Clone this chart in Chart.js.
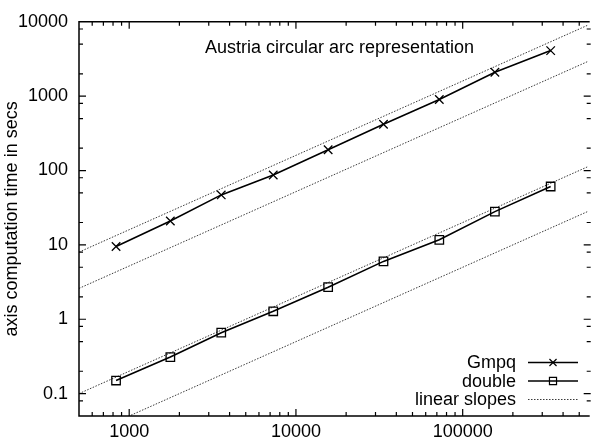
<!DOCTYPE html>
<html>
<head>
<meta charset="utf-8">
<script src="https://cdn.jsdelivr.net/npm/chart.js@4.4.0/dist/chart.umd.min.js"></script>
<style>
    html, body { margin: 0; padding: 0; background: #fff; }
    #wrap { width: 595px; height: 441px; }
</style>
</head>
<body>
<div id="wrap"><canvas id="chart" width="595" height="441"></canvas></div>
<script>
// problem size (x) and computation times
const sizes = [834, 1765, 3565, 7310, 15600, 33500, 72400, 156000, 337000];
const gmpqTimes = [9.5, 21, 47, 87, 190, 420, 900, 2100, 4100];
const doubleTimes = [0.15, 0.31, 0.66, 1.28, 2.7, 6.0, 11.7, 28, 61];

// slope-one reference lines, given at both ends of the x range
const slopeX = [500, 562000];
const slopeHiGmpq = [8, 8992];
const slopeLoGmpq = [2.6, 2922];
const slopeHiDouble = [0.1, 112.4];
const slopeLoDouble = [0.025, 28.1];

const xTicks = [1000, 10000, 100000];
const yTicks = [0.1, 1, 10, 100, 1000, 10000];
const xMinorSteps = [2, 3, 4, 5, 6, 7, 8, 9];
const yMinorSteps = [2, 5, 8];

const titleText = 'Austria circular arc representation';
const yTitle = 'axis computation time in secs';

const FONT = 'Liberation Sans, Arial, sans-serif';
const FONT_SIZE = 18;
Chart.defaults.font.family = FONT;
Chart.defaults.font.size = FONT_SIZE;
Chart.defaults.color = '#000';

function pairs(xs, ys) {
    return xs.map((x, i) => ({ x: x, y: ys[i] }));
}

function slopeSet(values, label) {
    return {
        label: label,
        data: pairs(slopeX, values),
        borderColor: '#3a3a3a',
        borderWidth: 1,
        borderDash: [1.5, 1.5],
        pointRadius: 0,
        fill: false
    };
}

// inward ticks on all four sides plus the frame, gnuplot style
const frame = {
    id: 'frame',
    afterDraw(chart) {
        const { ctx, chartArea: a, scales: { x, y } } = chart;
        const major = 7, minor = 4;
        ctx.save();
        ctx.strokeStyle = '#000';
        ctx.lineWidth = 1.5;
        ctx.beginPath();
        ctx.moveTo(a.right + 2, a.top);
        ctx.lineTo(a.left, a.top);
        ctx.lineTo(a.left, a.bottom);
        ctx.lineTo(a.right + 2, a.bottom);
        ctx.stroke();

        const xMarks = [];
        [xTicks[0] / 10, ...xTicks].forEach(d => {
            xMinorSteps.forEach(m => xMarks.push([m * d, minor]));
        });
        xTicks.forEach(v => xMarks.push([v, major]));
        ctx.lineWidth = 1.2;
        ctx.beginPath();
        xMarks.forEach(([v, len]) => {
            const px = x.getPixelForValue(v);
            if (px <= a.left + 1 || px > a.right) return;
            ctx.moveTo(px, a.bottom);
            ctx.lineTo(px, a.bottom - len);
            ctx.moveTo(px, a.top);
            ctx.lineTo(px, a.top + len);
        });

        const yMarks = [];
        [yTicks[0] / 10, ...yTicks].forEach(d => {
            yMinorSteps.forEach(m => yMarks.push([m * d, minor]));
        });
        yTicks.forEach(v => yMarks.push([v, major]));
        yMarks.forEach(([v, len]) => {
            const py = y.getPixelForValue(v);
            if (py < a.top + 1 || py >= a.bottom - 1) return;
            ctx.moveTo(a.left, py);
            ctx.lineTo(a.left + len, py);
            ctx.moveTo(a.right + 3, py);
            ctx.lineTo(a.right + 3 - len, py);
        });
        ctx.stroke();

        // title inside the plot
        ctx.fillStyle = '#000';
        ctx.font = FONT_SIZE + 'px ' + FONT;
        ctx.textAlign = 'center';
        ctx.textBaseline = 'alphabetic';
        ctx.fillText(titleText, 339.5, 53);
        ctx.restore();
    }
};

// key in the lower right corner: text, then line sample with marker
const key = {
    id: 'key',
    afterDraw(chart) {
        const ctx = chart.ctx;
        const textRight = 516, lineLeft = 528, lineRight = 578;
        const rows = [0, 1, 2];
        ctx.save();
        ctx.font = FONT_SIZE + 'px ' + FONT;
        ctx.textAlign = 'right';
        ctx.textBaseline = 'alphabetic';
        rows.forEach((idx, i) => {
            const ds = chart.data.datasets[idx];
            const base = 368 + i * 18.5;
            const mid = base - 5.5;
            ctx.fillStyle = '#000';
            ctx.fillText(ds.label, textRight, base);
            ctx.strokeStyle = ds.borderColor;
            ctx.lineWidth = ds.borderWidth;
            ctx.setLineDash(ds.borderDash || []);
            ctx.beginPath();
            ctx.moveTo(lineLeft, mid);
            ctx.lineTo(lineRight, mid);
            ctx.stroke();
            ctx.setLineDash([]);
            if (ds.pointStyle) {
                ctx.fillStyle = 'rgba(0,0,0,0)';
                ctx.strokeStyle = '#000';
                ctx.lineWidth = 1.2;
                Chart.helpers.drawPoint(ctx, {
                    pointStyle: ds.pointStyle,
                    radius: 5,
                    rotation: 0,
                    borderWidth: 1.2
                }, (lineLeft + lineRight) / 2, mid);
            }
        });
        ctx.restore();
    }
};

new Chart(document.getElementById('chart'), {
    type: 'line',
    data: {
        datasets: [
            {
                label: 'Gmpq',
                data: pairs(sizes, gmpqTimes),
                borderColor: '#000',
                borderWidth: 1.6,
                pointStyle: 'crossRot',
                pointRadius: 6,
                pointBorderWidth: 1.3,
                pointBorderColor: '#000',
                fill: false
            },
            {
                label: 'double',
                data: pairs(sizes, doubleTimes),
                borderColor: '#000',
                borderWidth: 1.6,
                pointStyle: 'rect',
                pointRadius: 6,
                pointBorderWidth: 1.3,
                pointBorderColor: '#000',
                pointBackgroundColor: 'rgba(0,0,0,0)',
                fill: false
            },
            slopeSet(slopeHiGmpq, 'linear slopes'),
            slopeSet(slopeLoGmpq, ''),
            slopeSet(slopeHiDouble, ''),
            slopeSet(slopeLoDouble, '')
        ]
    },
    options: {
        responsive: false,
        animation: false,
        devicePixelRatio: 1,
        layout: { padding: { top: 21, right: 0, left: 0, bottom: 0 } },
        plugins: {
            legend: { display: false },
            tooltip: { enabled: false }
        },
        scales: {
            x: {
                type: 'logarithmic',
                min: slopeX[0],
                max: slopeX[1],
                grid: { display: false, drawTicks: false },
                border: { display: false },
                afterBuildTicks: s => { s.ticks = xTicks.map(v => ({ value: v })); },
                afterFit: s => { s.height = 25; },
                ticks: {
                    padding: 5,
                    maxRotation: 0,
                    autoSkip: false,
                    callback: v => String(v)
                }
            },
            y: {
                type: 'logarithmic',
                min: 0.05,
                max: 10000,
                grid: { display: false, drawTicks: false },
                border: { display: false },
                afterBuildTicks: s => { s.ticks = yTicks.map(v => ({ value: v })); },
                afterFit: s => { s.width = 79; },
                title: {
                    display: true,
                    text: yTitle,
                    padding: { top: 1, bottom: 0 }
                },
                ticks: {
                    padding: 11,
                    autoSkip: false,
                    callback: v => String(v)
                }
            }
        }
    },
    plugins: [frame, key]
});
</script>
</body>
</html>
